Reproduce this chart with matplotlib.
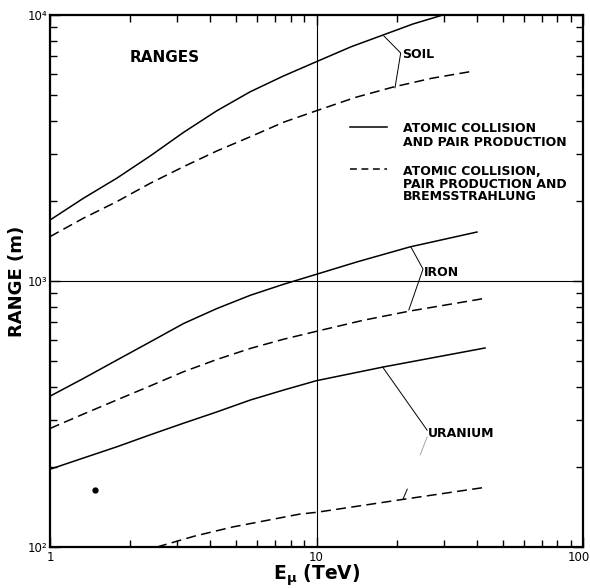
import matplotlib
matplotlib.use("Agg")
import matplotlib.pyplot as plt
from matplotlib.ticker import LogLocator, FixedLocator, FixedFormatter, NullFormatter

# ---- data ----
soil_solid_x = [1, 1.334, 1.78, 2.375, 3.17, 4.23, 5.65, 7.52, 10, 13.5, 17.8, 23.0, 29.8]
soil_solid_y = [1695, 2046, 2434, 2950, 3620, 4367, 5150, 5900, 6677, 7600, 8414, 9250, 10000]
soil_dash_x = [1, 1.334, 1.78, 2.375, 3.17, 4.23, 5.65, 7.52, 10, 14.0, 19.4, 27.0, 38.7]
soil_dash_y = [1468, 1722, 1987, 2329, 2690, 3083, 3487, 3952, 4367, 4900, 5360, 5780, 6150]

iron_solid_x = [1, 1.334, 1.78, 2.375, 3.17, 4.23, 5.65, 7.52, 10, 14.2, 22.4, 40]
iron_solid_y = [369, 430, 504, 590, 692, 788, 884, 972, 1060, 1180, 1343, 1528]
iron_dash_x = [1, 1.334, 1.78, 2.375, 3.17, 4.23, 5.65, 7.52, 10, 15.0, 22.4, 43.6]
iron_dash_y = [279, 316, 357, 403, 456, 507, 558, 604, 647, 712, 771, 863]

uran_solid_x = [1, 1.334, 1.78, 2.375, 3.17, 4.23, 5.65, 7.52, 10, 17.8, 42.9]
uran_solid_y = [196, 216, 238, 264, 292, 322, 357, 389, 422, 475, 560]
uran_dash_x = [2.52, 3.5, 4.86, 8.67, 10, 21.1, 43.6]
uran_dash_y = [100, 110, 119, 133, 135, 151, 168]

dot_x = [1.475]
dot_y = [164]

x_ticks = [1, 10, 100]
x_ticklabels = ["1", "10", "100"]
y_ticks = [100, 1000, 10000]
y_ticklabels = ["10²", "10³", "10⁴"]

legend_solid = ["ATOMIC COLLISION", "AND PAIR PRODUCTION"]
legend_dash = ["ATOMIC COLLISION,", "PAIR PRODUCTION AND", "BREMSSTRAHLUNG"]

# leader lines (data coordinates) and labels
soil_leader_x = [17.9, 20.7, 19.7]
soil_leader_y = [8340, 7195, 5325]
iron_leader_x = [22.6, 25.1, 22.2]
iron_leader_y = [1343, 1109, 778]
uran_leader_x = [17.7, 26.0]
uran_leader_y = [475, 275]
uran_faint_x = [26.0, 24.5]
uran_faint_y = [259, 222]
uran_tick_x = [21.1, 21.9]
uran_tick_y = [151, 165]

plt.rcParams['font.family'] = ['DejaVu Sans']

fig = plt.figure(figsize=(5.9, 5.88), dpi=100)
ax = fig.add_axes([50 / 590, 41 / 588, 533 / 590, 532 / 588])
ax.set_xscale('log')
ax.set_yscale('log')
ax.set_xlim(1, 100)
ax.set_ylim(100, 10000)

lw = 1.1
dash = (0, (6.5, 3.5))
ax.plot(soil_solid_x, soil_solid_y, color='black', lw=lw)
ax.plot(soil_dash_x, soil_dash_y, color='black', lw=lw, linestyle=dash)
ax.plot(iron_solid_x, iron_solid_y, color='black', lw=lw)
ax.plot(iron_dash_x, iron_dash_y, color='black', lw=lw, linestyle=dash)
ax.plot(uran_solid_x, uran_solid_y, color='black', lw=lw)
ax.plot(uran_dash_x, uran_dash_y, color='black', lw=lw, linestyle=dash)
ax.plot(dot_x, dot_y, 'o', color='black', ms=3.5)

# grid lines at 10 and 1000
ax.axvline(10, color='black', lw=0.8, zorder=1)
ax.axhline(1000, color='black', lw=0.8, zorder=1)

# leaders
ax.plot(soil_leader_x, soil_leader_y, color='black', lw=0.7)
ax.plot(iron_leader_x, iron_leader_y, color='black', lw=0.7)
ax.plot(uran_leader_x, uran_leader_y, color='black', lw=0.7)
ax.plot(uran_faint_x, uran_faint_y, color='#999999', lw=0.6)
ax.plot(uran_tick_x, uran_tick_y, color='black', lw=0.7)

lab_fs = 9
ax.text(21.0, 7080, "SOIL", fontsize=lab_fs, fontweight='bold', va='center', ha='left')
ax.text(25.3, 1081, "IRON", fontsize=lab_fs, fontweight='bold', va='center', ha='left')
ax.text(26.2, 268, "URANIUM", fontsize=lab_fs, fontweight='bold', va='center', ha='left')

ax.text((130 - 50) / 533, (547 - 57) / 532, "RANGES", transform=ax.transAxes,
        fontsize=11, fontweight='bold', va='center', ha='left')

# legend (manual)
tr = ax.transAxes
lx0, lx1 = (350 - 50) / 533, (387 - 50) / 533
tx = (403 - 50) / 533
ax.plot([lx0, lx1], [(547 - 127) / 532] * 2, color='black', lw=lw, transform=tr)
ax.plot([lx0, lx1], [(547 - 169) / 532] * 2, color='black', lw=lw, transform=tr,
        linestyle=(0, (4.5, 3)))
leg_fs = 9
for txt, py in zip(legend_solid, [128.5, 143]):
    ax.text(tx, (547 - py) / 532, txt, transform=tr, fontsize=leg_fs,
            fontweight='bold', va='center', ha='left')
for txt, py in zip(legend_dash, [171.5, 184, 197]):
    ax.text(tx, (547 - py) / 532, txt, transform=tr, fontsize=leg_fs,
            fontweight='bold', va='center', ha='left')

# ticks
ax.xaxis.set_major_locator(FixedLocator(x_ticks))
ax.xaxis.set_major_formatter(FixedFormatter(x_ticklabels[:-1] + [""]))
ax.yaxis.set_major_locator(FixedLocator(y_ticks))
ax.yaxis.set_major_formatter(FixedFormatter(y_ticklabels))
ax.xaxis.set_minor_locator(LogLocator(base=10, subs=range(2, 10)))
ax.yaxis.set_minor_locator(LogLocator(base=10, subs=range(2, 10)))
ax.xaxis.set_minor_formatter(NullFormatter())
ax.yaxis.set_minor_formatter(NullFormatter())
ax.tick_params(which='both', direction='in', top=True, right=True,
               width=1.0, labelsize=8.5)
ax.tick_params(which='major', length=7, pad=3)
ax.tick_params(which='minor', length=5)
ax.tick_params(axis='y', pad=2)
# last x tick label, pulled inside the figure edge like the reference
ax.annotate(x_ticklabels[-1], xy=(x_ticks[-1], 0), xycoords=('data', 'axes fraction'),
            xytext=(-3, -3), textcoords='offset points', ha='center', va='top',
            fontsize=8.5)

for s in ax.spines.values():
    s.set_linewidth(1.6)

ax.set_xlabel("E$_{\\mathbf{\\mu}}$ (TeV)", fontsize=13.5, fontweight='bold', labelpad=-1)
ax.set_ylabel("RANGE (m)", fontsize=13, fontweight='bold', labelpad=1)

fig.savefig("out.png", dpi=100)
